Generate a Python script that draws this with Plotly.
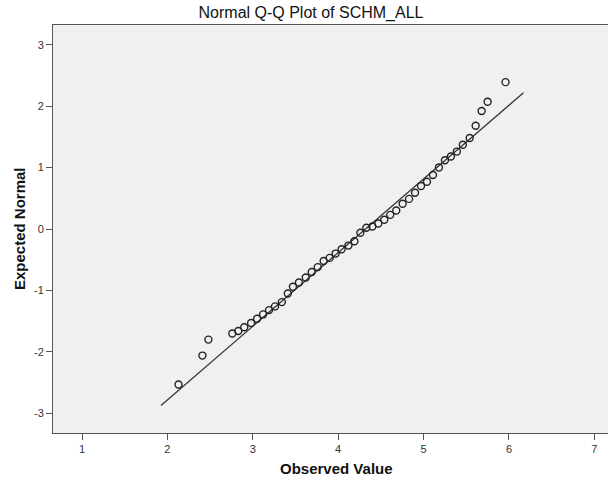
import plotly.graph_objects as go

TITLE = "Normal Q-Q Plot of SCHM_ALL"
X_TITLE = "Observed Value"
Y_TITLE = "Expected Normal"

OBSERVED = [2.13, 2.41, 2.48, 2.76, 2.83, 2.90, 2.98, 3.05, 3.12, 3.19, 3.26, 3.34,
            3.41, 3.47, 3.54, 3.62, 3.69, 3.76, 3.83, 3.90, 3.97, 4.04, 4.12, 4.19,
            4.26, 4.33, 4.40, 4.47, 4.54, 4.61, 4.68, 4.755, 4.83, 4.90, 4.97, 5.04,
            5.11, 5.18, 5.25, 5.32, 5.39, 5.46, 5.54, 5.61, 5.68, 5.75, 5.96]
EXPECTED = [-2.53, -2.06, -1.80, -1.70, -1.66, -1.60, -1.53, -1.46, -1.39, -1.32, -1.26, -1.19,
            -1.05, -0.94, -0.87, -0.79, -0.70, -0.62, -0.52, -0.47, -0.40, -0.33, -0.27, -0.20,
            -0.06, 0.02, 0.04, 0.09, 0.15, 0.23, 0.30, 0.41, 0.49, 0.59, 0.70, 0.77,
            0.88, 1.00, 1.12, 1.18, 1.26, 1.37, 1.48, 1.68, 1.92, 2.07, 2.39]

LINE_MEAN = 4.32
LINE_SD = 0.834
LINE_X = [1.925, 6.17]
LINE_Y = [(x - LINE_MEAN) / LINE_SD for x in LINE_X]

X_TICKS = [1, 2, 3, 4, 5, 6, 7]
Y_TICKS = [-3, -2, -1, 0, 1, 2, 3]

FONT = "Liberation Sans, Arial, sans-serif"

fig = go.Figure()
fig.add_trace(go.Scatter(x=LINE_X, y=LINE_Y, mode="lines",
                         line=dict(color="#333333", width=1.3),
                         hoverinfo="skip", showlegend=False))
fig.add_trace(go.Scatter(x=OBSERVED, y=EXPECTED, mode="markers",
                         marker=dict(symbol="circle-open", size=7,
                                     line=dict(color="#222222", width=1.4),
                                     color="#222222"),
                         showlegend=False))

fig.update_layout(
    width=608, height=483,
    margin=dict(l=53, r=0, t=25, b=50),
    paper_bgcolor="white",
    plot_bgcolor="#f0f0f0",
    font=dict(family=FONT, size=11, color="#333333"),
    title=dict(text=TITLE, x=311/608, xref="container", xanchor="center",
               y=1 - 12/483, yanchor="middle", yref="container",
               font=dict(family=FONT, size=16, color="#111111")),
    xaxis=dict(range=[0.66, 7.16], tickvals=X_TICKS, ticktext=[str(v) for v in X_TICKS],
               showgrid=False, zeroline=False, showline=True, linecolor="#555555",
               linewidth=1, mirror=True, ticks="outside", ticklen=6, tickcolor="#555555",
               tickfont=dict(size=11, color="#333333")),
    yaxis=dict(range=[-3.32, 3.32], tickvals=Y_TICKS, ticktext=[str(v) for v in Y_TICKS],
               showgrid=False, zeroline=False, showline=True, linecolor="#555555",
               linewidth=1, mirror=False, ticks="outside", ticklen=6, tickcolor="#555555",
               tickfont=dict(size=11, color="#333333")),
    annotations=[
        dict(text="<b>" + X_TITLE + "</b>", xref="paper", yref="paper",
             x=(336 - 53) / 555, y=-(469 - 433) / 408, xanchor="center", yanchor="middle",
             showarrow=False, font=dict(family=FONT, size=15, color="#111111")),
        dict(text="<b>" + Y_TITLE + "</b>", xref="paper", yref="paper",
             x=-(53 - 19) / 555, y=0.5, xanchor="center", yanchor="middle",
             textangle=-90, showarrow=False, font=dict(family=FONT, size=15, color="#111111")),
    ],
)

fig.write_html("out.html",
               config={"displayModeBar": False},
               post_script="document.body.style.margin='0px';document.body.style.overflow='hidden';")
